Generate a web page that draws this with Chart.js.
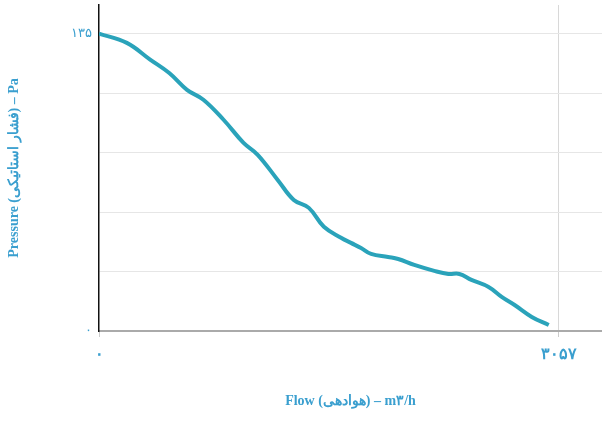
<!DOCTYPE html>
<html><head><meta charset="utf-8">
<script src="https://cdn.jsdelivr.net/npm/chart.js@4/dist/chart.umd.min.js"></script>
<style>html,body{margin:0;padding:0;background:#fff}#wrap{width:602px;height:432px}</style>
</head><body><div id="wrap"><canvas id="c" width="602" height="432"></canvas></div>
<script>
const flow = [0,185,340,467,585,694,828,961,1055,1188,1295,1395,1495,1609,1675,1742,1809,1922,1989,2096,2229,2323,2396,2476,2590,2677,2763,2877,2990];
const pressure = [135,130.8,123.2,117.1,109.5,105,95.9,85.4,80,68.6,59.5,55.9,47.3,42.3,40,37.7,35,33.6,32.7,30,27.3,25.9,25.9,23.2,20,15.5,11.8,6.4,2.7];
const xTicks = [0,3057];
const xTickLabels = ['۰','۳۰۵۷'];
const yTicks = [0,27,54,81,108,135];
const yTickLabels = {0:'۰',135:'۱۳۵'};
const xTitle = 'Flow (هوادهی) – m۳/h';
const yTitle = 'Pressure (فشار استاتیکی) – Pa';

const labelColor = '#3a9fcf';
const serif = "'Liberation Serif','Times New Roman',serif";

new Chart(document.getElementById('c'), {
  type: 'line',
  data: {
    datasets: [{
      data: flow.map((x,i)=>({x:x,y:pressure[i]})),
      borderColor: '#2aa3ba',
      borderWidth: 4,
      pointRadius: 0,
      tension: 0.4,
      fill: false
    }]
  },
  options: {
    responsive: false,
    animation: false,
    layout: {padding: {top: 5, right: 0, left: 0, bottom: 0}},
    plugins: {legend: {display: false}, tooltip: {enabled: false}},
    scales: {
      x: {
        type: 'linear', min: 0, max: 3344,
        afterBuildTicks: s => { s.ticks = xTicks.map(v=>({value:v})); },
        afterFit: s => { s.height = 101; s.paddingLeft = 0; s.paddingRight = 0; },
        border: {color: '#aaaaaa', width: 2},
        grid: {
          color: ctx => ctx.tick && ctx.tick.value === 0 ? 'rgba(0,0,0,0)' : '#d8d8d8',
          tickColor: '#cccccc', tickLength: 6, lineWidth: 1
        },
        ticks: {
          color: labelColor, padding: 8, maxRotation: 0,
          font: {family: serif, size: 16, weight: 'bold'},
          callback: v => { const i = xTicks.indexOf(v); return i >= 0 ? xTickLabels[i] : ''; }
        },
        title: {display: true, text: xTitle, color: labelColor,
          font: {family: serif, size: 14, weight: 'bold'}, padding: {top: 0, bottom: 22}}
      },
      y: {
        type: 'linear', min: 0, max: 148,
        afterBuildTicks: s => { s.ticks = yTicks.map(v=>({value:v})); },
        afterFit: s => { s.width = 99; s.paddingTop = 0; s.paddingBottom = 0; },
        border: {color: '#111111', width: 1.5},
        grid: {color: '#e6e6e6', lineWidth: 1, drawTicks: false},
        ticks: {
          color: labelColor, padding: 7,
          font: {family: serif, size: 13},
          callback: v => yTickLabels[v] !== undefined ? yTickLabels[v] : ''
        },
        title: {display: true, text: yTitle, color: labelColor,
          font: {family: serif, size: 14, weight: 'bold'}, padding: {top: 6, bottom: 0}}
      }
    }
  }
});
</script>
</body></html>
